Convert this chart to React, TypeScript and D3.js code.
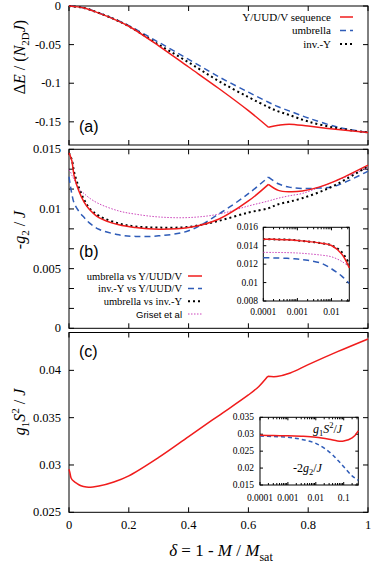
import React from "react";
import * as d3 from "d3";

// ---- panel (a): energy difference vs delta
const deltaA = [0, 0.05, 0.1, 0.15, 0.2, 0.3, 0.4, 0.5, 0.6, 0.667, 0.7, 0.736, 0.8, 0.9, 1];
const seqA = [0, -0.0025, -0.0092, -0.017, -0.0262, -0.0515, -0.079, -0.1065, -0.1355, -0.157, -0.1545, -0.153, -0.1555, -0.16, -0.1638];
const umbrellaA = [0, -0.0024, -0.009, -0.0165, -0.0254, -0.047, -0.069, -0.0914, -0.1116, -0.1246, -0.1305, -0.1358, -0.145, -0.157, -0.1638];
const invYA = [0, -0.0025, -0.0091, -0.0168, -0.0262, -0.05, -0.073, -0.097, -0.118, -0.131, -0.1365, -0.141, -0.1496, -0.1585, -0.1638];
const aTicks = [0, -0.05, -0.1, -0.15];
const aTickLabels = ["0", "-0.05", "-0.1", "-0.15"];

// ---- panel (b): -g2 / J
const deltaB = [0, 0.005, 0.01, 0.017, 0.033, 0.05, 0.067, 0.1, 0.167, 0.223, 0.3, 0.4, 0.5, 0.6, 0.667, 0.7, 0.736, 0.78, 0.836, 0.89, 1];
const umbVsSeq = [0.0147, 0.0144, 0.014, 0.0128, 0.0115, 0.0106, 0.01, 0.00928, 0.00867, 0.00844, 0.0083, 0.00844, 0.00914, 0.01067, 0.01206, 0.01156, 0.01144, 0.0115, 0.01183, 0.01233, 0.01367];
const invVsSeq = [0.0127, 0.0119, 0.0112, 0.0105, 0.0098, 0.0093, 0.00886, 0.0083, 0.00783, 0.0077, 0.00775, 0.00817, 0.00956, 0.01128, 0.01267, 0.01211, 0.01183, 0.01172, 0.01175, 0.01192, 0.01317];
const umbVsInv = [0.0147, 0.0144, 0.0141, 0.0131, 0.0118, 0.0108, 0.0101, 0.00942, 0.00878, 0.00853, 0.00844, 0.0085, 0.009, 0.0097, 0.01006, 0.0104, 0.0106, 0.0109, 0.0114, 0.012, 0.01358];
const griset = [0.0133, 0.0131, 0.0128, 0.0125, 0.0117, 0.0113, 0.01094, 0.01044, 0.00983, 0.00956, 0.00933, 0.00928, 0.00956, 0.01025, 0.01067, 0.0109, 0.0111, 0.0113, 0.0118, 0.01233, 0.01344];
const bTickLabels = ["0", "0.005", "0.01", "0.015"];
const bTicks = [0, 0.005, 0.01, 0.015];

// inset (b), log delta
const deltaIb = [0.0001, 0.0002, 0.0005, 0.001, 0.002, 0.005, 0.01, 0.02, 0.0333];
const umbVsSeqI = [0.0147, 0.01469, 0.01466, 0.01458, 0.01446, 0.01428, 0.01402, 0.0131, 0.0116];
const invVsSeqI = [0.0127, 0.01268, 0.01263, 0.01255, 0.01242, 0.0121, 0.0115, 0.0107, 0.0099];
const umbVsInvI = [0.0147, 0.01469, 0.01466, 0.01458, 0.01446, 0.01428, 0.01405, 0.0133, 0.012];
const grisetI = [0.01328, 0.01327, 0.01325, 0.01321, 0.01313, 0.01298, 0.0128, 0.0123, 0.0117];
const ibYTicks = [0.008, 0.01, 0.012, 0.014, 0.016];
const ibYLabels = ["0.008", "0.01", "0.012", "0.014", "0.016"];
const ibXTicks = [0.0001, 0.001, 0.01];
const ibXLabels = ["0.0001", "0.001", "0.01"];

// ---- panel (c): g1 S^2 / J
const deltaC = [0, 0.003, 0.007, 0.015, 0.024, 0.04, 0.058, 0.08, 0.1, 0.15, 0.2, 0.3, 0.4, 0.5, 0.6, 0.635, 0.665, 0.695, 0.74, 0.8, 0.9, 1];
const g1S2 = [0.02955, 0.0292, 0.02863, 0.0283, 0.0281, 0.0278, 0.02767, 0.02768, 0.02777, 0.0282, 0.02885, 0.0308, 0.033, 0.0352, 0.0374, 0.0383, 0.03937, 0.03935, 0.03972, 0.0406, 0.042, 0.04332];
const cTicks = [0.025, 0.03, 0.035, 0.04];
const cTickLabels = ["0.025", "0.03", "0.035", "0.04"];

// inset (c)
const deltaIc = [0.0001, 0.0003, 0.001, 0.003, 0.01, 0.03, 0.06, 0.1, 0.2, 0.333];
const g1S2I = [0.0297, 0.0296, 0.02956, 0.0294, 0.0291, 0.0285, 0.028, 0.028, 0.0289, 0.031];
const minus2g2I = [0.02947, 0.0293, 0.0291, 0.0285, 0.0273, 0.0248, 0.0224, 0.0204, 0.0177, 0.0164];
const icYTicks = [0.015, 0.02, 0.025, 0.03, 0.035];
const icYLabels = ["0.015", "0.02", "0.025", "0.03", "0.035"];
const icXTicks = [0.0001, 0.001, 0.01, 0.1];
const icXLabels = ["0.0001", "0.001", "0.01", "0.1"];

const xTicks = [0, 0.2, 0.4, 0.6, 0.8, 1];
const xTickLabels = ["0", "0.2", "0.4", "0.6", "0.8", "1"];

const RED = "#f01c1c";
const BLUE = "#2f5cb8";
const MAG = "#cc44bb";

const x = d3.scaleLinear().domain([0, 1]).range([69, 368]);
const yA = d3.scaleLinear().domain([-0.18, 0]).range([145, 6]);
const yB = d3.scaleLinear().domain([0, 0.015]).range([328.3, 149.3]);
const yC = d3.scaleLinear().domain([0.025, 0.044]).range([512.3, 332.5]);
const xIb = d3.scaleLog().domain([1e-4, 1 / 30]).range([263.3, 349.3]);
const yIb = d3.scaleLinear().domain([0.008, 0.016]).range([301, 227.3]);
const xIc = d3.scaleLog().domain([1e-4, 1 / 3]).range([260, 358.3]);
const yIc = d3.scaleLinear().domain([0.015, 0.035]).range([485, 417.3]);

const lineGen = d3.line<[number, number]>().curve(d3.curveCatmullRom.alpha(0.5));

// kink = index where the curve has a corner (drawn as two smooth pieces)
function curve(xs: number[], ys: number[], sx: any, sy: any, kink = -1) {
  const pts = xs.map((v, i) => [sx(v), sy(ys[i])] as [number, number]);
  if (kink < 0) return lineGen(pts) || "";
  return (lineGen(pts.slice(0, kink + 1)) || "") + (lineGen(pts.slice(kink)) || "");
}

function minorLog(domain: number[]) {
  const out: number[] = [];
  for (let d = 1e-4; d < domain[1]; d *= 10)
    for (let m = 2; m <= 9; m++) if (m * d < domain[1]) out.push(m * d);
  return out;
}

function Frame({ sx, sy, xt, yt, len }: any) {
  const [x0, x1] = sx.range();
  const [y1, y0] = sy.range();
  return (
    <g stroke="#000" strokeWidth={1}>
      <rect x={x0} y={y0} width={x1 - x0} height={y1 - y0} fill="none" />
      {xt.map((v: number, i: number) => (
        <g key={"x" + i}>
          <line x1={sx(v)} x2={sx(v)} y1={y1} y2={y1 - len} />
          <line x1={sx(v)} x2={sx(v)} y1={y0} y2={y0 + len} />
        </g>
      ))}
      {yt.map((v: number, i: number) => (
        <g key={"y" + i}>
          <line x1={x0} x2={x0 + len} y1={sy(v)} y2={sy(v)} />
          <line x1={x1} x2={x1 - len} y1={sy(v)} y2={sy(v)} />
        </g>
      ))}
    </g>
  );
}

function YLabels({ sy, ticks, labels, xr, size }: any) {
  return (
    <g className="sr" fontSize={size} textAnchor="end">
      {ticks.map((v: number, i: number) => (
        <text key={i} x={xr} y={sy(v) + size * 0.33}>{labels[i]}</text>
      ))}
    </g>
  );
}

export default function App() {
  const bMinor = d3.range(0, 10).map((i) => (i * 0.015) / 9);
  return (
    <div style={{ position: "absolute", left: 0, top: 0 }}>
      <svg width={374} height={564} style={{ display: "block", background: "#fff" }}>
        <style>{`
          .sr { font-family: "Liberation Serif", "Times New Roman", Times, serif; }
          .ss { font-family: "Liberation Sans", Arial, Helvetica, sans-serif; }
        `}</style>
        {/* ---------- panel (a) ---------- */}
        <Frame sx={x} sy={yA} xt={xTicks} yt={aTicks} len={5} />
        <YLabels sy={yA} ticks={aTicks} labels={aTickLabels} xr={61} size={12.5} />
        <path d={curve(deltaA, umbrellaA, x, yA)} fill="none" stroke={BLUE} strokeWidth={1.5} strokeDasharray="6,4" />
        <path d={curve(deltaA, invYA, x, yA)} fill="none" stroke="#000" strokeWidth={2} strokeDasharray="2,3" />
        <path d={curve(deltaA, seqA, x, yA, 9)} fill="none" stroke={RED} strokeWidth={1.5} />
        <g className="sr" fontSize={11} textAnchor="end">
          <text x={331} y={20.5}>Y/UUD/V sequence</text>
          <text x={331} y={34}>umbrella</text>
          <text x={331} y={47.5}>inv.-Y</text>
        </g>
        <line x1={340} x2={353} y1={17} y2={17} stroke={RED} strokeWidth={1.5} />
        <line x1={340} x2={353} y1={30.5} y2={30.5} stroke={BLUE} strokeWidth={1.5} strokeDasharray="6,4" />
        <line x1={340} x2={353} y1={44} y2={44} stroke="#000" strokeWidth={2} strokeDasharray="2,3" />
        <text x={79} y={132} className="ss" fontSize={16}>(a)</text>
        <text transform="translate(25,57) rotate(-90)" textAnchor="middle" className="sr" fontSize={16}>
          Δ<tspan fontStyle="italic">E</tspan> / (<tspan fontStyle="italic">N</tspan>
          <tspan fontSize={11} dy={4}>2D</tspan>
          <tspan dy={-4} fontStyle="italic">J</tspan>)
        </text>

        {/* ---------- panel (b) ---------- */}
        <Frame sx={x} sy={yB} xt={xTicks} yt={bMinor} len={5} />
        <YLabels sy={yB} ticks={bTicks} labels={bTickLabels} xr={61} size={12.5} />
        <path d={curve(deltaB, griset, x, yB)} fill="none" stroke={MAG} strokeWidth={1} strokeDasharray="1.5,1.5" />
        <path d={curve(deltaB, invVsSeq, x, yB, 14)} fill="none" stroke={BLUE} strokeWidth={1.5} strokeDasharray="6,4" />
        <path d={curve(deltaB, umbVsInv, x, yB)} fill="none" stroke="#000" strokeWidth={2} strokeDasharray="2,3" />
        <path d={curve(deltaB, umbVsSeq, x, yB, 14)} fill="none" stroke={RED} strokeWidth={1.5} />
        <text x={79} y={257} className="ss" fontSize={16}>(b)</text>
        <g className="sr" fontSize={10.5} textAnchor="end">
          <text x={182} y={279.5}>umbrella vs Y/UUD/V</text>
          <text x={182} y={292}>inv.-Y vs Y/UUD/V</text>
          <text x={182} y={304.8}>umbrella vs inv.-Y</text>
        </g>
        <text x={182} y={317.5} textAnchor="end" className="ss" fontSize={9.5}>Griset et al</text>
        <line x1={188} x2={202} y1={276} y2={276} stroke={RED} strokeWidth={1.5} />
        <line x1={188} x2={202} y1={288.6} y2={288.6} stroke={BLUE} strokeWidth={1.5} strokeDasharray="6,4" />
        <line x1={188} x2={202} y1={301.3} y2={301.3} stroke="#000" strokeWidth={2} strokeDasharray="2,3" />
        <line x1={188} x2={202} y1={314} y2={314} stroke={MAG} strokeWidth={1} strokeDasharray="1.5,1.5" />
        <text transform="translate(25,230) rotate(-90)" textAnchor="middle" className="sr" fontSize={16}>
          -<tspan fontStyle="italic">g</tspan>
          <tspan fontSize={11} dy={4}>2</tspan>
          <tspan dy={-4}> / </tspan>
          <tspan fontStyle="italic">J</tspan>
        </text>

        {/* inset (b) */}
        <rect x={263.3} y={227.3} width={86} height={73.7} fill="#fff" />
        <Frame sx={xIb} sy={yIb} xt={ibXTicks} yt={ibYTicks} len={3} />
        <g stroke="#000">
          {minorLog(xIb.domain()).map((v, i) => (
            <g key={i}>
              <line x1={xIb(v)} x2={xIb(v)} y1={301} y2={299} />
              <line x1={xIb(v)} x2={xIb(v)} y1={227.3} y2={229.3} />
            </g>
          ))}
        </g>
        <YLabels sy={yIb} ticks={ibYTicks} labels={ibYLabels} xr={258} size={9.5} />
        <g className="sr" fontSize={9.5} textAnchor="middle">
          {ibXTicks.map((v, i) => (
            <text key={i} x={xIb(v)} y={315}>{ibXLabels[i]}</text>
          ))}
        </g>
        <path d={curve(deltaIb, grisetI, xIb, yIb)} fill="none" stroke={MAG} strokeWidth={1} strokeDasharray="1.5,1.5" />
        <path d={curve(deltaIb, invVsSeqI, xIb, yIb)} fill="none" stroke={BLUE} strokeWidth={1.5} strokeDasharray="6,4" />
        <path d={curve(deltaIb, umbVsInvI, xIb, yIb)} fill="none" stroke="#000" strokeWidth={2} strokeDasharray="2,3" />
        <path d={curve(deltaIb, umbVsSeqI, xIb, yIb)} fill="none" stroke={RED} strokeWidth={1.5} />

        {/* ---------- panel (c) ---------- */}
        <Frame sx={x} sy={yC} xt={xTicks} yt={cTicks} len={5} />
        <YLabels sy={yC} ticks={cTicks} labels={cTickLabels} xr={61} size={12.5} />
        <path d={curve(deltaC, g1S2, x, yC, 16)} fill="none" stroke={RED} strokeWidth={1.5} />
        <text x={79} y={357} className="ss" fontSize={16}>(c)</text>
        <g className="sr" fontSize={12.5} textAnchor="middle">
          {xTicks.map((v, i) => (
            <text key={i} x={x(v)} y={529}>{xTickLabels[i]}</text>
          ))}
        </g>
        <text transform="translate(25,412) rotate(-90)" textAnchor="middle" className="sr" fontSize={16}>
          <tspan fontStyle="italic">g</tspan>
          <tspan fontSize={11} dy={4}>1</tspan>
          <tspan dy={-4} fontStyle="italic">S</tspan>
          <tspan fontSize={11} dy={-6}>2</tspan>
          <tspan dy={6}> / </tspan>
          <tspan fontStyle="italic">J</tspan>
        </text>
        <text x={221} y={556} textAnchor="middle" className="sr" fontSize={17}>
          <tspan fontStyle="italic">δ</tspan> = 1 - <tspan fontStyle="italic">M</tspan> / <tspan fontStyle="italic">M</tspan>
          <tspan fontSize={12} dy={5}>sat</tspan>
        </text>

        {/* inset (c) */}
        <rect x={260} y={417.3} width={98.3} height={67.7} fill="#fff" />
        <Frame sx={xIc} sy={yIc} xt={icXTicks} yt={icYTicks} len={3} />
        <g stroke="#000">
          {minorLog(xIc.domain()).map((v, i) => (
            <g key={i}>
              <line x1={xIc(v)} x2={xIc(v)} y1={485} y2={483} />
              <line x1={xIc(v)} x2={xIc(v)} y1={417.3} y2={419.3} />
            </g>
          ))}
        </g>
        <YLabels sy={yIc} ticks={icYTicks} labels={icYLabels} xr={254} size={9.5} />
        <g className="sr" fontSize={9.5} textAnchor="middle">
          {icXTicks.map((v, i) => (
            <text key={i} x={xIc(v)} y={501}>{icXLabels[i]}</text>
          ))}
        </g>
        <path d={curve(deltaIc, minus2g2I, xIc, yIc)} fill="none" stroke={BLUE} strokeWidth={1.5} strokeDasharray="4,3" />
        <path d={curve(deltaIc, g1S2I, xIc, yIc)} fill="none" stroke={RED} strokeWidth={1.5} />
        <text x={313} y={433} className="sr" fontSize={12}>
          <tspan fontStyle="italic">g</tspan>
          <tspan fontSize={8.5} dy={3}>1</tspan>
          <tspan dy={-3} fontStyle="italic">S</tspan>
          <tspan fontSize={8.5} dy={-5}>2</tspan>
          <tspan dy={5}>/</tspan>
          <tspan fontStyle="italic">J</tspan>
        </text>
        <text x={293} y={472} className="sr" fontSize={12}>
          -2<tspan fontStyle="italic">g</tspan>
          <tspan fontSize={8.5} dy={3}>2</tspan>
          <tspan dy={-3}>/</tspan>
          <tspan fontStyle="italic">J</tspan>
        </text>
      </svg>
    </div>
  );
}
